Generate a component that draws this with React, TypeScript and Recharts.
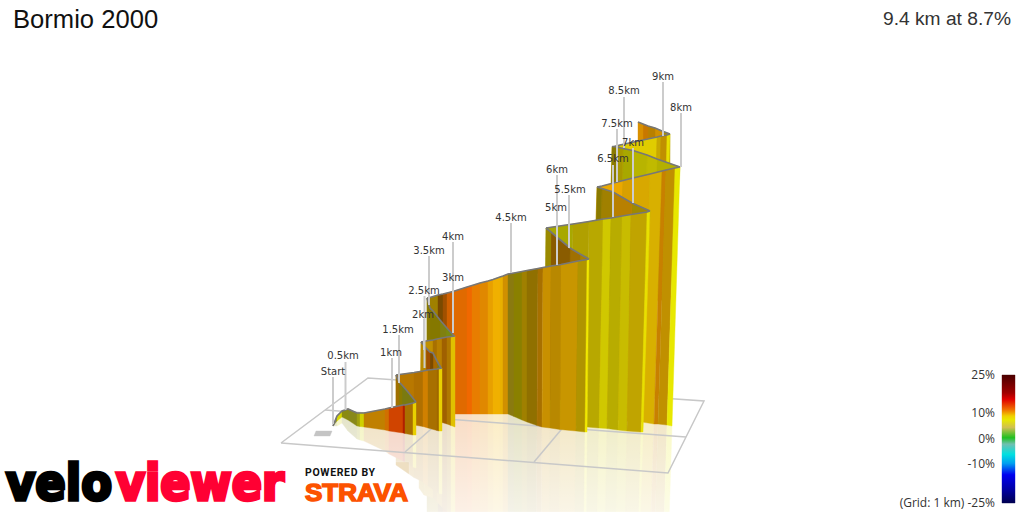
import React from "react";
import { ScatterChart, Scatter, XAxis, YAxis, LabelList } from "recharts";

// every row: top x, top y, bottom x, bottom y
type Stop = [number, number, number, number];

const panelA: Stop[] = [
  [333, 426, 333, 426], [337, 416, 337, 421], [342, 411, 342, 417], [348, 409, 348, 420],
  [357, 413, 357, 426], [360, 413, 360, 426.5], [364, 413, 364, 427], [385, 409, 385, 430],
  [389, 408, 389, 431], [403, 405, 403, 433], [405, 405, 405, 433.5], [413, 403, 413, 435],
  [416, 402, 416, 435],
];
const colorsA = ["#8a8a20", "#d8d800", "#8a8a10", "#88881a", "#a0a010", "#d0d000", "#c08000", "#d07000", "#d04400", "#b02000", "#a87000", "#e8d000"];

const foldA: Stop[] = [
  [416, 402, 416, 420], [408, 392, 408, 420], [402, 385, 402, 420], [399, 382, 399, 420], [396, 375, 396, 420],
];
const colorsFoldA = ["#7a7a10", "#7a7a10", "#8a7a00", "#a07000"];

const panelB: Stop[] = [
  [396, 375, 396, 420], [414, 372.5, 414, 425], [423, 371, 423, 426.5], [428, 370, 428, 428],
  [437, 369, 437, 430.5], [439, 368.5, 439, 431], [442, 368, 442, 431],
];
const colorsB = ["#b87800", "#b07000", "#d08000", "#a87000", "#a06800", "#e8d000"];

const foldB: Stop[] = [
  [441, 368, 441, 420], [437, 361, 437, 420], [433, 353, 433, 420], [430, 352, 430, 420], [426, 348, 426, 420], [421, 342, 421, 420],
];
const colorsFoldB = ["#7f7a10", "#a86800", "#7a4a00", "#a05000", "#b88a00"];

const panelC: Stop[] = [
  [421, 342, 420, 415], [426, 341, 425, 418], [433, 340, 433, 419], [437, 339, 437, 420.5],
  [442, 338, 442, 422.5], [447, 337, 447, 424], [451, 336.5, 451, 425.5], [455, 336, 455, 427],
];
const colorsC = ["#b88a00", "#c09000", "#a87000", "#b88000", "#a06000", "#b07800", "#e0c000"];

const foldC: Stop[] = [
  [454, 336, 454, 400], [446, 327, 446, 400], [440, 320, 440, 400], [433, 311, 433, 400], [430, 308, 430, 400], [427, 298, 427, 400],
];
const colorsFoldC = ["#7a8a10", "#7f8010", "#857800", "#857800", "#8a7a00"];

const panelD: Stop[] = [
  [427, 298, 427, 412], [430, 297.5, 430, 412], [438, 295, 438, 413], [443, 294, 443, 413],
  [447, 293, 447, 414], [453, 291.5, 453, 414], [467, 287, 467, 414], [472, 285.5, 472, 414],
  [480, 283, 480, 414], [488, 281, 488, 414], [493, 279.5, 493, 414], [500, 277, 500, 414],
  [503, 276, 503, 414], [508, 274, 508, 414], [514, 273, 514, 416.5], [522, 271.5, 522, 420],
  [527, 270.5, 527, 422], [538, 268.5, 537, 425.5], [543, 267.5, 542, 427], [551, 266, 550, 428],
  [561, 264.5, 560, 429.5], [578, 261, 576, 431], [587, 259.5, 585, 432], [589, 259, 587, 432],
];
const colorsD = [
  "#8f7a00", "#a08000", "#7a4a00", "#a05000", "#d06000", "#e06a00", "#f06800", "#e87d00", "#e08800", "#e8a000", "#f0b000", "#e8b000", "#d09000",
  "#8a7a10", "#8a8000", "#a08000", "#907000", "#a87000", "#c89000", "#b88800", "#c89600", "#b09400", "#f0e800",
];

const foldD: Stop[] = [
  [589, 259, 587, 400], [580, 254, 578, 400], [570, 248, 568, 400], [558, 238, 556, 400], [551, 232, 549, 400], [546, 228, 544, 400],
];
const colorsFoldD = ["#a88000", "#a07000", "#8a5c00", "#8a5a00", "#9a8a00"];

const panelE: Stop[] = [
  [546, 228, 545, 425], [573, 224, 571, 425], [589, 221.5, 587, 427], [603, 219, 599, 428],
  [611, 218, 607, 428.5], [622, 216, 618, 430], [631, 214.5, 627, 431], [647, 212, 641, 432], [650, 211, 643, 432],
];
const colorsE = ["#a8a800", "#b0a000", "#b8a800", "#d0c800", "#b8ac00", "#c8bc00", "#c0a400", "#e8e000"];

const foldE: Stop[] = [
  [650, 211, 646, 300], [632, 203, 628, 300], [613, 192, 610, 300], [602, 188.5, 599, 300], [597, 187, 594, 300],
];
const colorsFoldE = ["#a08a00", "#b88000", "#a08000", "#8a7a00"];

const panelF: Stop[] = [
  [597, 187, 590, 420], [602, 186, 595, 420], [623, 180.5, 615, 420], [633, 178, 625, 421], [650, 174, 642, 422],
  [662, 171, 654, 424], [666, 170, 658, 424], [675, 168, 667, 425], [680, 167, 672, 426],
];
const colorsF = ["#eaa800", "#eaa800", "#d8a000", "#d8a800", "#d8b000", "#c88000", "#c09000", "#e8e800"];

const foldF: Stop[] = [
  [680, 167, 670, 300], [657, 159, 652, 300], [647, 155, 644, 300], [633, 150.5, 630, 300], [623, 148.5, 620, 300], [617, 147, 614, 300], [612, 146.5, 609, 300],
];
const colorsFoldF = ["#b4b000", "#c0ba00", "#b8b400", "#a8a800", "#a89800", "#8a7a00"];

const panelG: Stop[] = [
  [612, 147, 608, 300], [620, 145, 616, 300], [657, 137, 653, 300], [661, 136, 657, 300], [667, 135, 663, 300], [670, 134, 666, 300],
];
const colorsG = ["#c8b000", "#e0cc00", "#c8a800", "#c09000", "#e8e000"];

const foldG: Stop[] = [
  [670, 134, 670, 200], [662, 131, 662, 200], [655, 128, 655, 200], [648, 126, 648, 200], [643, 124, 643, 200], [638, 122, 638, 200],
];
const colorsFoldG = ["#a89000", "#d09000", "#b88000", "#c87800", "#d89000"];

// far to near, so the nearer ribbon covers the one behind it
const ribbon: { stops: Stop[]; colors: string[]; mirrored?: boolean }[] = [
  { stops: foldG, colors: colorsFoldG },
  { stops: panelG, colors: colorsG },
  { stops: foldF, colors: colorsFoldF },
  { stops: panelF, colors: colorsF, mirrored: true },
  { stops: foldE, colors: colorsFoldE },
  { stops: panelE, colors: colorsE, mirrored: true },
  { stops: foldD, colors: colorsFoldD },
  { stops: panelD, colors: colorsD, mirrored: true },
  { stops: foldC, colors: colorsFoldC },
  { stops: panelC, colors: colorsC, mirrored: true },
  { stops: foldB, colors: colorsFoldB },
  { stops: panelB, colors: colorsB, mirrored: true },
  { stops: foldA, colors: colorsFoldA },
  { stops: panelA, colors: colorsA, mirrored: true },
];

const gridOuter = [[281, 443], [368, 378], [704, 401], [668, 473], [281, 443]];
const gridAcross = [[325, 410], [686, 437]];
const gridDepth1 = [[405, 452], [480, 386]];
const gridDepth2 = [[534, 462], [592, 393]];
const startMark = [[316, 431], [332, 431], [330, 436], [314, 436]];

const kmNames = ["Start", "0.5km", "1km", "1.5km", "2km", "2.5km", "3km", "3.5km", "4km", "4.5km", "5km", "5.5km", "6km", "6.5km", "7km", "7.5km", "8km", "8.5km", "9km"];
const kmLabelX = [333, 343, 391, 398, 423, 424, 453, 429, 453, 511, 556, 570, 557, 613, 633, 617, 681, 624, 663];
const kmLabelY = [371, 355, 352, 329, 314, 290, 277, 250, 236, 217, 207, 189, 169, 158, 142, 123, 107, 90, 76];
const kmLeadX = [333, 345.5, 392, 399, 424, 424.5, 453, 429, 453, 511, 557, 569, 557, 613, 633, 617, 681, 624, 663];
const kmLeadTop = [377, 362, 358, 335, 319, 296, 283, 256, 242, 223, 213, 195, 175, 165, 148, 129, 113, 97, 82];
const kmLeadEnd = [424, 410, 408, 383, 350, 368, 333, 305, 293, 273, 265, 248, 265, 217, 203, 182, 167, 148, 136];

const scaleOffsets = ["0%", "14%", "19%", "27%", "32%", "35%", "41%", "49%", "54%", "62%", "69%", "78%", "90%", "100%"];
const scaleColors = ["#4a0000", "#a00000", "#e00000", "#f07000", "#f0d000", "#e8e800", "#d0c050", "#20c020", "#70c0b0", "#00e0e0", "#00a0f0", "#0000f0", "#0000a0", "#000050"];
const scaleLabels = ["25%", "10%", "0%", "-10%", "(Grid: 1 km) -25%"];
const scaleLabelY = [379, 417, 443, 468, 507];
const scaleBar = [[1002, 375], [1015, 375], [1015, 503], [1002, 503]];
// stays clear of the logos at the lower left
const fadeBox = [[330, 405], [730, 405], [730, 512], [409, 512], [409, 462], [330, 462]];

const toPoints = (rows: number[][]) => rows.map(([x, y]) => ({ x, y }));

function paleColor(hex: string, amount = 0.24) {
  const n = parseInt(hex.slice(1), 16);
  const mix = (c: number) => Math.round(255 + (c - 255) * amount);
  return `rgb(${mix(n >> 16)},${mix((n >> 8) & 255)},${mix(n & 255)})`;
}

// a filled shape: the corners go through the chart scales, Scatter hands them back as pixels
function Shape({ id, rows, fill }: { id: string; rows: number[][]; fill: string }) {
  return (
    <Scatter
      key={id}
      data={toPoints(rows)}
      isAnimationActive={false}
      shape={() => <g />}
      line={(p: any) => (
        <polygon
          key={id}
          points={p.points.map((q: any) => `${q.x},${q.y}`).join(" ")}
          fill={fill}
          stroke={fill}
          strokeWidth={0.4}
        />
      )}
    />
  );
}

function path(id: string, rows: number[][], stroke: string, width: number) {
  return (
    <Scatter
      key={id}
      data={toPoints(rows)}
      isAnimationActive={false}
      shape={() => <g />}
      line={{ stroke, strokeWidth: width, fill: "none" }}
    />
  );
}

const reflections = ribbon.flatMap((part, p) =>
  !part.mirrored
    ? []
    : part.colors.map((color, i) => {
        const [ax, ay, bx, by] = part.stops[i];
        const [cx, cy, dx, dy] = part.stops[i + 1];
        return Shape({
          id: `r${p}-${i}`,
          rows: [[bx, by], [dx, dy], [dx + (dx - cx), dy + (dy - cy)], [bx + (bx - ax), by + (by - ay)]],
          fill: paleColor(color),
        });
      })
);

const strips = ribbon.flatMap((part, p) => [
  ...part.colors.map((color, i) => {
    const [ax, ay, bx, by] = part.stops[i];
    const [cx, cy, dx, dy] = part.stops[i + 1];
    return Shape({ id: `s${p}-${i}`, rows: [[ax, ay], [cx, cy], [dx, dy], [bx, by]], fill: color });
  }),
  path(`t${p}`, part.stops.map(([x, y]) => [x, y]), "#777777", 1.7),
]);

const leaders = kmNames.map((name, i) =>
  path(`l${name}`, [[kmLeadX[i], kmLeadTop[i]], [kmLeadX[i], kmLeadEnd[i]]], "#cccccc", 2)
);

const kmLabels = kmNames.map((name, i) => ({ x: kmLabelX[i], y: kmLabelY[i], name }));
const scaleTexts = scaleLabels.map((name, i) => ({ name, y: scaleLabelY[i] }));

export default function App() {
  return (
    <div style={{ position: "absolute", left: 0, top: 0, width: 1024, height: 512, background: "#fff" }}>
      <ScatterChart width={1024} height={512} margin={{ top: 0, right: 0, bottom: 0, left: 0 }}>
        <defs>
          <linearGradient id="fade" gradientUnits="userSpaceOnUse" x1="0" y1="405" x2="0" y2="512">
            <stop offset="0%" stopColor="#fff" stopOpacity={0} />
            <stop offset="100%" stopColor="#fff" stopOpacity={0.6} />
          </linearGradient>
          <linearGradient id="gradeScale" x1="0" y1="0" x2="0" y2="1">
            {scaleColors.map((c, i) => (
              <stop key={c} offset={scaleOffsets[i]} stopColor={c} />
            ))}
          </linearGradient>
        </defs>
        <XAxis type="number" dataKey="x" domain={[0, 1024]} allowDataOverflow hide />
        <YAxis type="number" dataKey="y" domain={[0, 512]} reversed allowDataOverflow hide />

        {reflections}
        {Shape({ id: "fade", rows: fadeBox, fill: "url(#fade)" })}
        {path("gridOuter", gridOuter, "#c8c8c8", 1.5)}
        {path("gridAcross", gridAcross, "#c8c8c8", 1.5)}
        {path("gridDepth1", gridDepth1, "#c8c8c8", 1.5)}
        {path("gridDepth2", gridDepth2, "#c8c8c8", 1.5)}
        {Shape({ id: "startMark", rows: startMark, fill: "#c4c4c4" })}
        {strips}
        {leaders}
        {Shape({ id: "scale", rows: scaleBar, fill: "url(#gradeScale)" })}

        <Scatter data={kmLabels} isAnimationActive={false} shape={() => <g />}>
          <LabelList
            dataKey="name"
            position="center"
            fontSize={10}
            fontFamily="DejaVu Sans"
            fill="#333333"
          />
        </Scatter>

        <text x={13} y={28} fontFamily="Liberation Sans" fontSize={25.6} fill="#111">Bormio 2000</text>
        <text x={1011} y={25} textAnchor="end" fontFamily="Liberation Sans" fontSize={19.2} fill="#333">9.4 km at 8.7%</text>
        {scaleTexts.map((t) => (
          <text key={t.name} x={995} y={t.y} textAnchor="end" fontFamily="Open Sans" fontSize={12} fill="#333">{t.name}</text>
        ))}

        <text x={6} y={500} fontFamily="DejaVu Sans" fontWeight={700} fontSize={50} textLength={106} lengthAdjust="spacingAndGlyphs" fill="#000" stroke="#000" strokeWidth={3.5}>velo</text>
        <text x={116} y={500} fontFamily="DejaVu Sans" fontWeight={700} fontSize={50} textLength={168} lengthAdjust="spacingAndGlyphs" fill="#ff0033" stroke="#ff0033" strokeWidth={3.5}>viewer</text>
        <text x={305} y={476} fontFamily="Roboto" fontWeight={700} fontSize={10.5} textLength={70} fill="#111">POWERED BY</text>
        <text x={305} y={501} fontFamily="Liberation Sans" fontWeight={700} fontSize={24} textLength={103} lengthAdjust="spacingAndGlyphs" fill="#fc5200" stroke="#fc5200" strokeWidth={1.5}>STRAVA</text>
      </ScatterChart>
    </div>
  );
}
